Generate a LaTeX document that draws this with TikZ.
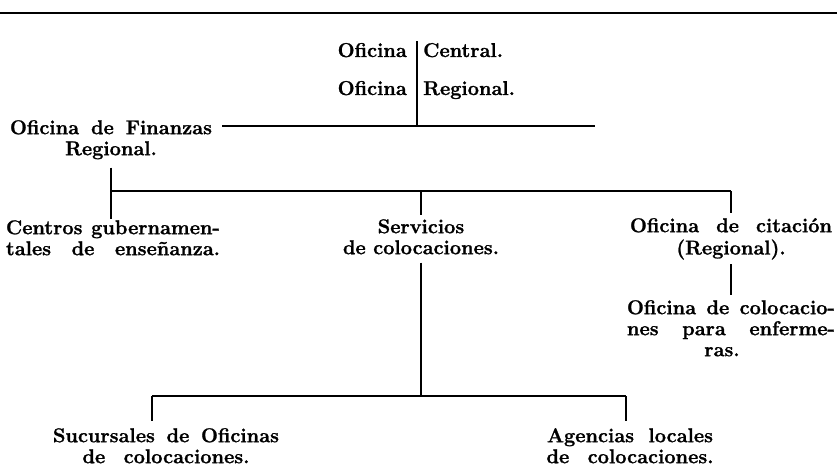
\documentclass[tikz,border=0pt]{standalone}
\usepackage{fontspec}
\setmainfont{Latin Modern Roman}[BoldFeatures={FakeBold=1.2}]
\usetikzlibrary{positioning}
\tikzset{rotulo/.style = {inner sep=0pt, align=center, anchor=north,
                          font=\bfseries\fontsize{20}{21}\selectfont},
         palabra/.style = {inner sep=0pt,
                           font=\bfseries\fontsize{20}{21}\selectfont},
         raya/.style = {line width=2pt}}
\newcommand{\renglon}[2]{\makebox[#1][s]{\strut #2}}

\begin{document}
\begin{tikzpicture}[x=1pt, y=-1pt]
    \useasboundingbox (0, 0) rectangle (837, 469);

    \draw [line width=2.5pt] (0, 13) -- (837, 13);

    % cabecera
    \node [palabra, anchor=base east] (oficA) at (407, 57) {Oficina};
    \node [palabra, anchor=base west] (central) at (423, 57) {Central.};
    \node [palabra, anchor=base east] (oficB) at (407, 95) {Oficina};
    \node [palabra, anchor=base west] (regional) at (423, 95) {Regional.};

    \coordinate (tope) at (417, 41);
    \coordinate (nivelA) at (0, 126);
    \coordinate (finA) at (595, 126);
    \coordinate (bus) at (0, 191);
    \coordinate (busB) at (0, 396);
    \coordinate (ticS) at (152, 396);
    \coordinate (ticA) at (626, 396);

    \node [rotulo] (finanzas) at (111, 119.3)
        {\renglon{202pt}{Oficina de Finanzas}\\ \strut Regional.};
    \node [rotulo] (centros) at (113, 219.3)
        {\renglon{214pt}{Centros gubernamen-}\\ \renglon{214pt}{tales de enseñanza.}};
    \node [rotulo] (servicios) at (421, 218.3)
        {\strut Servicios\\ \strut de colocaciones.};
    \node [rotulo] (citacion) at (731, 217.3)
        {\renglon{202pt}{Oficina de citación}\\ \strut (Regional).};
    \node [rotulo] (enfermeras) at (731, 299.3)
        {\renglon{208pt}{Oficina de colocacio-}\\ \renglon{208pt}{nes para enferme-}\\
         \makebox[208pt]{\strut ras.\hspace{18pt}}};
    \node [rotulo] (sucursales) at (166, 427.3)
        {\renglon{226pt}{Sucursales de Oficinas}\\ \renglon{167pt}{de colocaciones.}};
    \node [rotulo] (agencias) at (630, 427.3)
        {\renglon{166pt}{Agencias locales}\\ \renglon{167pt}{de colocaciones.}};

    \draw [raya] (tope) -- (tope |- nivelA);
    \draw [raya] ([xshift=10pt]finanzas.north east |- nivelA) -- (finA);

    \draw [raya] ([yshift=-6pt]finanzas.south) -- (finanzas.south |- centros.north);
    \draw [raya] (finanzas.south |- bus) -- (citacion.north |- bus);
    \draw [raya, shorten >=3pt] (servicios.north |- bus) -- (servicios.north);
    \draw [raya, shorten >=4pt] (citacion.north |- bus) -- (citacion.north);
    \draw [raya, shorten <=3pt, shorten >=4pt] (citacion.south) -- (enfermeras.north);

    \draw [raya, shorten <=2pt] (servicios.south) -- (servicios.south |- busB);
    \draw [raya] (ticS) -- (ticA);
    \draw [raya, shorten >=6pt] (ticS) -- (ticS |- sucursales.north);
    \draw [raya, shorten >=6pt] (ticA) -- (ticA |- agencias.north);
\end{tikzpicture}
\end{document}
